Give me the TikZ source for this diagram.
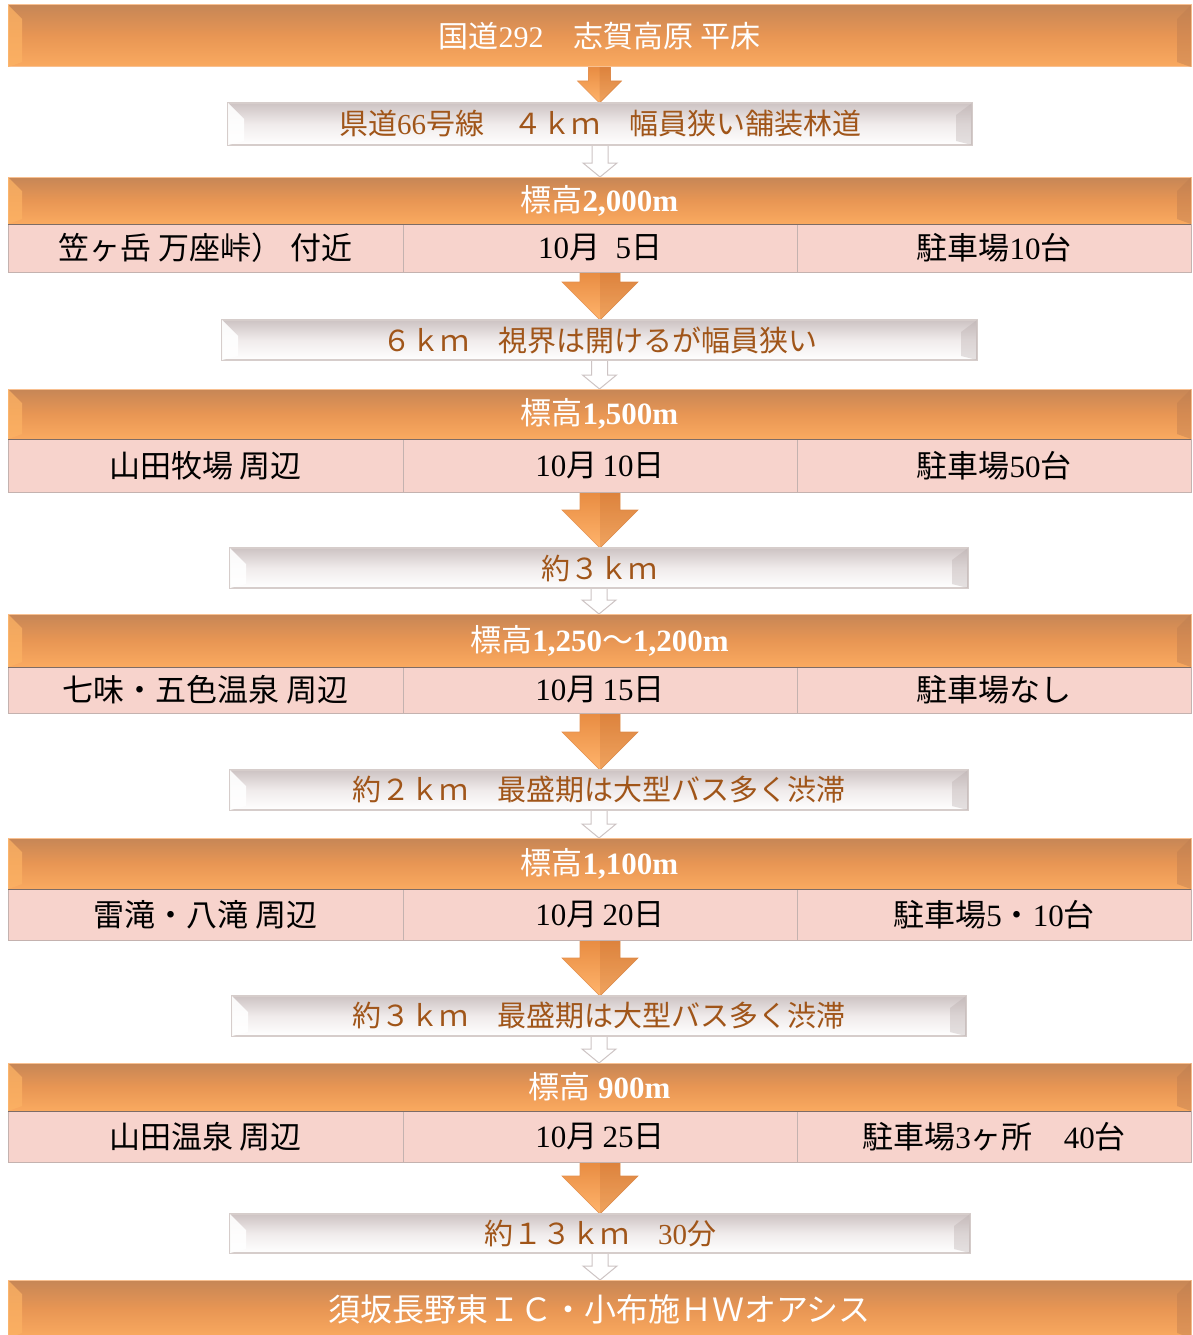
\documentclass[tikz,border=0pt]{standalone}
\usepackage{fontspec}
\setmainfont{Liberation Serif}
\newfontfamily\jp{Noto Sans CJK JP}
\usetikzlibrary{calc,shadings}
\newcommand\J[1]{{\jp #1}}
\definecolor{orTop}{RGB}{198,134,86}
\definecolor{orMid}{RGB}{232,150,84}
\definecolor{orBot}{RGB}{250,170,96}
\definecolor{orEdge}{RGB}{248,192,145}
\definecolor{orLight}{RGB}{252,178,100}
\definecolor{orDark}{RGB}{190,125,80}
\definecolor{pinkFill}{RGB}{247,211,204}
\definecolor{pinkEdge}{RGB}{196,178,175}
\definecolor{hdrLine}{RGB}{125,108,102}
\definecolor{grTop}{RGB}{205,195,195}
\definecolor{grMid}{RGB}{240,235,235}
\definecolor{grEdge}{RGB}{214,205,203}
\definecolor{grDark}{RGB}{182,170,170}
\definecolor{brownText}{RGB}{160,85,25}
\definecolor{arTop}{RGB}{232,140,66}
\definecolor{arBot}{RGB}{255,180,108}
\definecolor{arEdge}{RGB}{228,145,80}
\definecolor{arDark}{RGB}{170,90,40}
\definecolor{gaEdge}{RGB}{205,196,196}
\pgfdeclarelayer{back}
\pgfdeclarelayer{bg}
\pgfsetlayers{back,bg,main}
\tikzset{
  orbar/.style={rectangle, inner sep=0pt, outer sep=0pt, draw=orEdge, line width=1pt,
    top color=orTop, bottom color=orBot, middle color=orMid, text=white,
    font=\fontsize{31}{35}\selectfont},
  bigbar/.style={orbar, font=\fontsize{30}{34}\selectfont},
  cell/.style={rectangle, inner sep=0pt, outer sep=0pt, draw=pinkEdge, line width=1pt,
    fill=pinkFill, text=black, font=\fontsize{31}{35}\selectfont},
  graybar/.style={rectangle, inner sep=0pt, outer sep=0pt, draw=grEdge, line width=1.5pt,
    top color=grTop, bottom color=white, middle color=grMid, text=brownText,
    font=\fontsize{29}{33}\selectfont},
  hline/.style={draw=hdrLine, line width=1pt},
  orarrowstyle/.style={top color=arTop, bottom color=arBot, draw=arEdge, line width=.6pt},
  grarrowstyle/.style={fill=white, draw=gaEdge, line width=1pt}
}
% bevels
\newcommand\bevelor[1]{%
  \fill[orLight, opacity=.75] (#1.north west) -- ($(#1.north west)+(14,14)$) -- ($(#1.south west)+(14,-5)$) -- (#1.south west) -- cycle;
  \fill[orDark, opacity=.45] (#1.north east) -- ($(#1.north east)+(-14,14)$) -- ($(#1.south east)+(-14,-5)$) -- (#1.south east) -- cycle;
}
\newcommand\bevelgr[1]{%
  \fill[white, opacity=.9] (#1.north west) -- ($(#1.north west)+(16,16)$) -- ($(#1.south west)+(16,-4)$) -- (#1.south west) -- cycle;
  \fill[grDark, opacity=.35] (#1.north east) -- ($(#1.north east)+(-16,12)$) -- ($(#1.south east)+(-16,-4)$) -- (#1.south east) -- cycle;
}
% connectors (block arrows) from node to node
\newcommand\orarrow[5]{%
  \path[orarrowstyle] let \p1=(#1.south), \p2=(#2.north) in
    (\x1-#3,\y1) -- (\x1+#3,\y1) -- (\x1+#3,\y2+#5) -- (\x1+#4,\y2+#5) -- (\x1,\y2)
    -- (\x1-#4,\y2+#5) -- (\x1-#3,\y2+#5) -- cycle;
  \fill[arDark, opacity=.18] let \p1=(#1.south), \p2=(#2.north) in
    (\x1,\y1) -- (\x1+#3,\y1) -- (\x1+#3,\y2+#5) -- (\x1+#4,\y2+#5) -- (\x1,\y2) -- cycle;
}
\newcommand\grarrow[2]{%
  \path[grarrowstyle] let \p1=(#1.south), \p2=(#2.north) in
    (\x1-8pt,\y1) -- (\x1+8pt,\y1) -- (\x1+8pt,\y2+14pt) -- (\x1+17pt,\y2+14pt) -- (\x1,\y2)
    -- (\x1-17pt,\y2+14pt) -- (\x1-8pt,\y2+14pt) -- cycle;
}
% a stage: header + three cells
\newcommand\stage[8]{%
  \node[orbar, minimum width=1183pt, minimum height={#3-#2}] (h#1) at (599.5,{(#2+#3)/2}) {#5};
  \bevelor{h#1}
  \node[cell, minimum width=395pt, minimum height={#4-#3}] (r#1a) at (205.5,{(#3+#4)/2}) {#6};
  \node[cell, minimum width=394pt, minimum height={#4-#3}] (r#1b) at (600,{(#3+#4)/2}) {#7};
  \node[cell, minimum width=394pt, minimum height={#4-#3}] (r#1c) at (994,{(#3+#4)/2}) {#8};
  \draw[hline] (h#1.south west) -- (h#1.south east);
}
\newcommand\gbar[6]{%
  \node[graybar, minimum width={#4-#2}, minimum height={#5-#3}] (#1) at ({(#2+#4)/2},{(#3+#5)/2}) {#6};
  \bevelgr{#1}
}
\begin{document}
\begin{tikzpicture}[x=1pt,y=-1pt]
\clip (0,0) rectangle (1192,1335);
\begin{pgfonlayer}{back}
\fill[white] (0,0) rectangle (1192,1335);
\end{pgfonlayer}

% top bar
\node[bigbar, minimum width=1183pt, minimum height=62pt] (top) at (599.5,36) {\J{国道}292\J{　志賀高原 平床}};
\bevelor{top}

\gbar{g1}{228}{103}{972}{145}{\J{県道}66\J{号線　４ｋｍ　幅員狭い舗装林道}}

\stage{2}{177}{224}{272}{\J{標高}\textbf{2,000m}}
  {\J{笠ヶ岳 万座峠）}\ \J{付近}}{10\J{月}\enspace5\J{日}}{\J{駐車場}10\J{台}}

\gbar{g2}{222}{320}{977}{360}{\J{６ｋｍ　視界は開けるが幅員狭い}}

\stage{3}{389}{439}{492}{\J{標高}\textbf{1,500m}}
  {\J{山田牧場 周辺}}{10\J{月}\,10\J{日}}{\J{駐車場}50\J{台}}

\gbar{g3}{230}{548}{968}{588}{\J{約３ｋｍ}}

\stage{4}{614}{667}{713}{\J{標高}\textbf{1,250}\J{～}\textbf{1,200m}}
  {\J{七味・五色温泉 周辺}}{10\J{月}\,15\J{日}}{\J{駐車場なし}}

\gbar{g4}{230}{770}{968}{810}{\J{約２ｋｍ　最盛期は大型バス多く渋滞}}

\stage{5}{838}{889}{940}{\J{標高}\textbf{1,100m}}
  {\J{雷滝・八滝 周辺}}{10\J{月}\,20\J{日}}{\J{駐車場}5\J{・}10\J{台}}

\gbar{g5}{232}{996}{966}{1036}{\J{約３ｋｍ　最盛期は大型バス多く渋滞}}

\stage{6}{1063}{1111}{1162}{\J{標高} \textbf{900m}}
  {\J{山田温泉 周辺}}{10\J{月}\,25\J{日}}{\J{駐車場}3\J{ヶ所　}40\J{台}}

\gbar{g6}{230}{1214}{970}{1253}{\J{約１３ｋｍ　}30\J{分}}

\node[bigbar, minimum width=1183pt, minimum height=58pt, font=\fontsize{32}{36}\selectfont] (fin) at (599.5,1309) {\J{須坂長野東ＩＣ・小布施ＨＷオアシス}};
\bevelor{fin}

% connectors
\begin{pgfonlayer}{bg}
  \orarrow{top}{g1}{11pt}{22pt}{22pt}
  \grarrow{g1}{h2}
  \orarrow{r2b}{g2}{20pt}{38pt}{38pt}
  \grarrow{g2}{h3}
  \orarrow{r3b}{g3}{20pt}{38pt}{38pt}
  \grarrow{g3}{h4}
  \orarrow{r4b}{g4}{20pt}{38pt}{38pt}
  \grarrow{g4}{h5}
  \orarrow{r5b}{g5}{20pt}{38pt}{38pt}
  \grarrow{g5}{h6}
  \orarrow{r6b}{g6}{20pt}{38pt}{38pt}
  \grarrow{g6}{fin}
\end{pgfonlayer}
\end{tikzpicture}
\end{document}
